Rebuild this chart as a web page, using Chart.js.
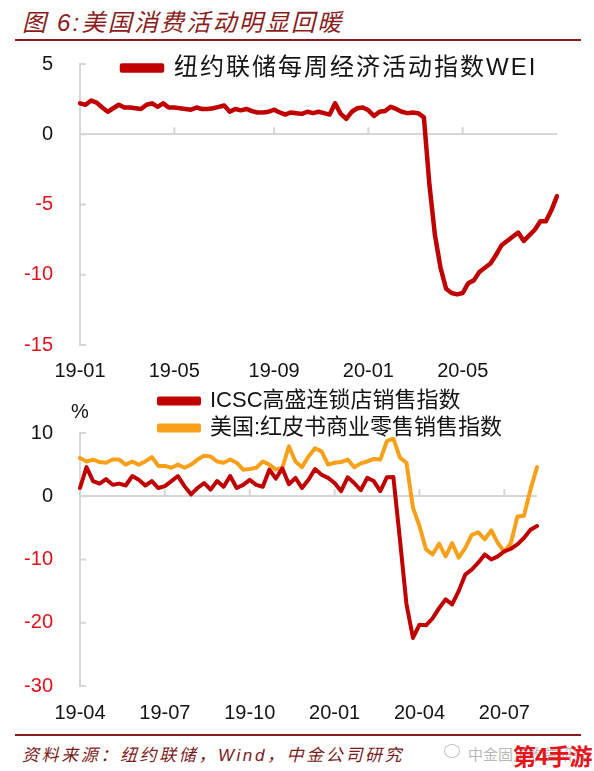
<!DOCTYPE html>
<html>
<head>
<meta charset="utf-8">
<script src="https://cdn.jsdelivr.net/npm/chart.js@4.4.1/dist/chart.umd.min.js"></script>
<style>
  html, body { margin: 0; padding: 0; background: #ffffff; }
  #page { position: relative; width: 594px; height: 771px; overflow: hidden; background: #fff;
          font-family: "Liberation Sans", "Noto Sans CJK SC", sans-serif; }
  .title { position: absolute; left: 22px; top: 3px; font-size: 24px; font-style: italic; color: #8a1c1c;
           letter-spacing: 2.2px; white-space: nowrap; }
  .rule { position: absolute; left: 15px; width: 566px; height: 2px; background: #8a1c1c; }
  .foot { position: absolute; left: 22px; top: 741px; font-size: 17px; font-style: italic; color: #7a1a1a;
          letter-spacing: 2.6px; white-space: nowrap; }
  .wm { position: absolute; left: 468px; top: 743px; font-size: 15px; color: #b8b8b8; white-space: nowrap; }
  .wmicon { position: absolute; left: 444px; top: 744px; width: 14px; height: 12px; border: 1.5px solid #c4c4c4; border-radius: 50%; }
  .logo { position: absolute; left: 513px; top: 738px; font-size: 23px; font-weight: bold; color: #e8141c; white-space: nowrap;
          font-family: "Noto Sans CJK SC", sans-serif; letter-spacing: -1px; }
  canvas { position: absolute; left: 0; }
</style>
</head>
<body>
<div id="page">
  <div class="title">图 6:美国消费活动明显回暖</div>
  <div class="rule" style="top:39px"></div>
  <canvas id="weiChart" width="594" height="359" style="top:25px"></canvas>
  <canvas id="retailChart" width="594" height="345" style="top:385px"></canvas>
  <div class="rule" style="top:734px"></div>
  <div class="foot">资料来源：纽约联储，Wind，中金公司研究</div>
  <div class="wmicon"></div>
  <div class="wm">中金固定收益研究</div>
  <div class="logo">第4手游</div>
</div>
<script>
// ---------------- data ----------------
// weekly observation dates
function weeklyDates(start, n) {
  const out = [];
  const d0 = new Date(start + 'T00:00:00Z');
  for (let i = 0; i < n; i++) {
    const d = new Date(d0.getTime() + i * 7 * 86400000);
    out.push(d.toISOString().slice(0, 10));
  }
  return out;
}
const weiDates = weeklyDates('2019-01-05', 87);
const retailDates = weeklyDates('2019-04-06', 71);

const weiTickLabels = ['19-01', '19-05', '19-09', '20-01', '20-05'];
const retailTickLabels = ['19-04', '19-07', '19-10', '20-01', '20-04', '20-07'];

const weiYTicks = [-15, -10, -5, 0, 5];
const retailYTicks = [-30, -20, -10, 0, 10];

const weiName = '纽约联储每周经济活动指数WEI';
const icscName = 'ICSC高盛连锁店销售指数';
const redbookName = '美国:红皮书商业零售销售指数';

const weiValues = [
  2.2, 2.1, 2.4, 2.25, 1.9, 1.6, 1.85, 2.1, 1.9, 1.9,
  1.85, 1.8, 2.1, 2.2, 1.95, 2.2, 1.9, 1.9, 1.85, 1.8,
  1.75, 1.9, 1.8, 1.8, 1.85, 1.95, 2.05, 1.6, 1.8, 1.7,
  1.8, 1.65, 1.55, 1.55, 1.6, 1.75, 1.55, 1.4, 1.55, 1.5,
  1.45, 1.6, 1.5, 1.6, 1.5, 1.4, 2.2, 1.45, 1.1, 1.6,
  1.85, 1.9, 1.7, 1.3, 1.6, 1.65, 1.95, 1.8, 1.6, 1.5,
  1.55, 1.5, 1.2, -3.6, -7.2, -9.5, -11.0, -11.3, -11.4, -11.3,
  -10.6, -10.4, -9.8, -9.5, -9.2, -8.6, -7.9, -7.6, -7.3, -7.0,
  -7.6, -7.2, -6.8, -6.2, -6.2, -5.4, -4.4
];

const icscValues = [
  1.3, 4.6, 2.4, 2.0, 2.7, 1.8, 2.0, 1.7, 3.2, 2.6,
  1.7, 2.4, 1.3, 1.6, 2.4, 3.2, 1.6, 0.3, 1.3, 2.1,
  1.05, 2.4, 1.5, 3.2, 1.3, 1.8, 2.6, 1.8, 1.5, 4.2,
  2.8, 4.4, 1.9, 2.9, 1.3, 2.6, 4.3, 3.4, 2.9, 2.1,
  0.8, 3.0, 2.1, 0.95, 2.9, 2.4, 0.8, 3.0, 3.05, -6.8,
  -17.0, -22.4, -20.3, -20.4, -19.3, -17.7, -16.3, -17.1, -15.0, -12.4,
  -11.6, -10.5, -9.2, -10.0, -9.5, -8.7, -8.3, -7.6, -6.6, -5.3,
  -4.7
];

const redbookValues = [
  6.05, 5.5, 5.8, 5.4, 5.3, 5.8, 5.8, 5.0, 5.5, 5.0,
  5.5, 6.2, 4.8, 4.8, 4.5, 5.0, 4.5, 5.0, 5.8, 6.4,
  6.3, 5.5, 5.3, 5.8, 5.3, 4.2, 4.3, 4.5, 5.5, 5.0,
  4.2, 4.5, 7.9, 5.5, 4.6, 6.3, 7.6, 7.1, 5.0, 5.3,
  5.4, 5.8, 4.6, 5.2, 5.5, 5.9, 5.8, 8.7, 9.1, 6.1,
  5.3, -1.8, -4.7, -8.4, -9.2, -7.5, -9.5, -7.4, -9.7, -8.2,
  -6.1, -5.7, -6.8, -5.4, -7.4, -8.8, -7.4, -3.2, -3.1, 1.05,
  4.6
];

// ---------------- styling ----------------
const DARK_RED = '#c00000';
const ORANGE = '#f9a01b';
const NEG_RED = '#e3101b';
const TEXT = '#141414';
const AXIS_GREY = '#d6d6d6';
const FONT = '"Liberation Sans", "Noto Sans CJK SC", sans-serif';

Chart.defaults.font.family = FONT;
Chart.defaults.color = TEXT;

function tickIndexes(dates, labels) {
  return labels.map(l => dates.findIndex(d => d.slice(2, 7) === l)).filter(i => i >= 0);
}

// small inner tick marks on the axes + optional unit label
const axisMarks = {
  id: 'axisMarks',
  beforeDatasetsDraw(chart, args, opts) {
    const { ctx, chartArea } = chart;
    const x = chart.scales.x, y = chart.scales.y;
    const y0 = y.getPixelForValue(0);
    ctx.save();
    ctx.strokeStyle = AXIS_GREY;
    ctx.lineWidth = 2;
    ctx.beginPath();
    y.ticks.forEach(t => {
      const py = y.getPixelForValue(t.value);
      ctx.moveTo(chartArea.left, py);
      ctx.lineTo(chartArea.left + 6, py);
    });
    x.ticks.forEach(t => {
      const px = x.getPixelForValue(t.value);
      ctx.moveTo(px, y0);
      ctx.lineTo(px, y0 - 7);
    });
    ctx.stroke();
    if (opts.unit) {
      ctx.fillStyle = TEXT;
      ctx.font = '20px ' + FONT;
      ctx.textAlign = 'center';
      ctx.textBaseline = 'middle';
      ctx.fillText(opts.unit, chartArea.left + opts.unitDx, chartArea.top + opts.unitDy);
    }
    ctx.restore();
  }
};

// place the legend inside the plot and give its text letter spacing
const legendPlace = {
  id: 'legendPlace',
  afterLayout(chart, args, opts) {
    const lg = chart.legend;
    if (!lg) return;
    const w = lg.width, h = lg.height;
    lg.left = opts.x; lg.top = opts.y;
    lg.right = opts.x + Math.max(w, 460);
    lg.bottom = opts.y + Math.max(h, 200);
    if (!lg._spacedDraw) {
      const orig = lg.draw.bind(lg);
      lg.draw = function () {
        const c = chart.ctx;
        c.save();
        if ('letterSpacing' in c) c.letterSpacing = opts.spacing + 'px';
        orig.apply(null, arguments);
        c.restore();
      };
      lg._spacedDraw = true;
    }
  }
};

function makeOptions(cfg) {
  const idx = tickIndexes(cfg.dates, cfg.tickLabels);
  return {
    responsive: false,
    animation: false,
    layout: { padding: cfg.padding },
    plugins: {
      legend: {
        position: 'chartArea',
        fullSize: false,
        align: 'start',
        labels: {
          boxWidth: 40, boxHeight: 5, padding: 5,
          color: TEXT,
          font: { size: cfg.legendSize, family: FONT }
        }
      },
      tooltip: { enabled: false },
      axisMarks: { unit: cfg.unit, unitDx: 0, unitDy: -21 },
      legendPlace: cfg.legendPlace
    },
    elements: { point: { radius: 0 }, line: { tension: 0, borderJoinStyle: 'round', borderCapStyle: 'round' } },
    scales: {
      x: {
        type: 'category',
        offset: false,
        grid: { display: false },
        border: { display: false },
        afterBuildTicks(ax) { ax.ticks = ax.ticks.filter(t => idx.includes(t.value)); },
        afterFit(ax) { ax.height = cfg.xHeight; },
        ticks: {
          autoSkip: false, maxRotation: 0, minRotation: 0, padding: cfg.xPad,
          color: TEXT, font: { size: 20 },
          callback(v) { return cfg.dates[v].slice(2, 7); }
        }
      },
      y: {
        min: cfg.yTicks[0], max: cfg.yTicks[cfg.yTicks.length - 1],
        afterBuildTicks(ax) { ax.ticks = cfg.yTicks.map(v => ({ value: v })); },
        afterFit(ax) { ax.width = 80; },
        grid: {
          drawTicks: false, lineWidth: 2,
          color: c => (c.tick && c.tick.value === 0) ? AXIS_GREY : 'rgba(0,0,0,0)'
        },
        border: { display: true, color: AXIS_GREY, width: 2 },
        ticks: {
          padding: 27, font: { size: 20 },
          color: c => (c.tick && c.tick.value < 0) ? NEG_RED : TEXT
        }
      }
    }
  };
}

new Chart(document.getElementById('weiChart'), {
  type: 'line',
  data: {
    labels: weiDates,
    datasets: [{ label: weiName, data: weiValues, borderColor: DARK_RED, backgroundColor: DARK_RED, borderWidth: 4.5 }]
  },
  options: makeOptions({
    dates: weiDates, tickLabels: weiTickLabels, yTicks: weiYTicks,
    padding: { top: 19, right: 37, bottom: 0, left: 0 },
    xHeight: 39, xPad: 6, legendSize: 24, unit: null,
    legendPlace: { x: 117, y: 26, spacing: 2 }
  }),
  plugins: [axisMarks, legendPlace]
});

new Chart(document.getElementById('retailChart'), {
  type: 'line',
  data: {
    labels: retailDates,
    datasets: [
      { label: icscName, data: icscValues, borderColor: DARK_RED, backgroundColor: DARK_RED, borderWidth: 4 },
      { label: redbookName, data: redbookValues, borderColor: ORANGE, backgroundColor: ORANGE, borderWidth: 4 }
    ]
  },
  options: makeOptions({
    dates: retailDates, tickLabels: retailTickLabels, yTicks: retailYTicks,
    padding: { top: 48, right: 57, bottom: 0, left: 0 },
    xHeight: 44, xPad: 7, legendSize: 22, unit: '%',
    legendPlace: { x: 154, y: 0, spacing: 0 }
  }),
  plugins: [axisMarks, legendPlace]
});
</script>
</body>
</html>
